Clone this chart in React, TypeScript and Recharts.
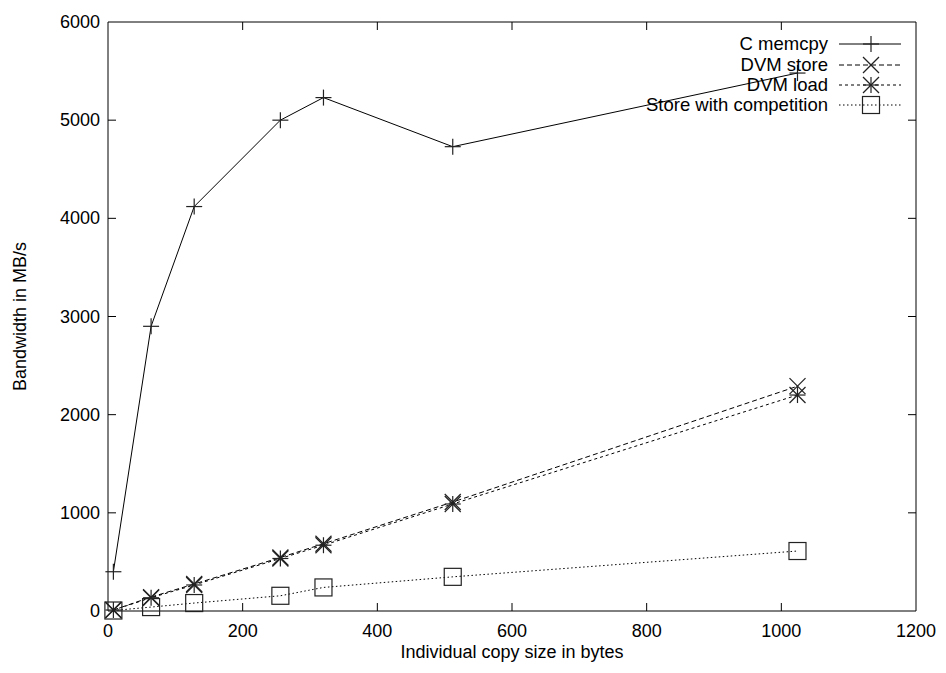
import React from "react";
import { LineChart, Line, XAxis, YAxis, Label } from "recharts";

// copy sizes in bytes
const SIZES = [8, 64, 128, 256, 320, 512, 1024];
// bandwidth in MB/s
const MEMCPY = [400, 2900, 4120, 5000, 5230, 4730, 5480];
const DVM_STORE = [10, 142, 275, 545, 685, 1110, 2290];
const DVM_LOAD = [10, 135, 265, 535, 670, 1090, 2200];
const COMPETITION = [5, 40, 81, 155, 240, 348, 611];

const X_TICKS = [0, 200, 400, 600, 800, 1000, 1200];
const Y_TICKS = [0, 1000, 2000, 3000, 4000, 5000, 6000];

const FONT = "'Liberation Sans', Arial, Helvetica, sans-serif";
const INK = "#000";
const MARK = "#222";

// plot frame inside the svg (gnuplot style box with inward ticks)
const W = 930;
const H = 657;
const M = { top: 14, right: 22, bottom: 54, left: 100 };
const TICK = 8;

type Marker = "plus" | "cross" | "star" | "square";

const SERIES: { key: string; name: string; dash?: string; marker: Marker }[] = [
  { key: "memcpy", name: "C memcpy", marker: "plus" },
  { key: "store", name: "DVM store", dash: "5 3", marker: "cross" },
  { key: "load", name: "DVM load", dash: "3 3", marker: "star" },
  { key: "comp", name: "Store with competition", dash: "1.5 2.5", marker: "square" },
];

const rows = SIZES.map((x, i) => ({
  x,
  memcpy: MEMCPY[i],
  store: DVM_STORE[i],
  load: DVM_LOAD[i],
  comp: COMPETITION[i],
}));

function MarkerShape({ cx, cy, kind }: { cx: number; cy: number; kind: Marker }) {
  const h = 8;
  const p = { stroke: MARK, strokeWidth: 1.2, fill: "none" };
  if (kind === "plus")
    return (
      <g>
        <line x1={cx - h} y1={cy} x2={cx + h} y2={cy} {...p} />
        <line x1={cx} y1={cy - h} x2={cx} y2={cy + h} {...p} />
      </g>
    );
  if (kind === "cross")
    return (
      <g>
        <line x1={cx - h} y1={cy - h} x2={cx + h} y2={cy + h} {...p} />
        <line x1={cx - h} y1={cy + h} x2={cx + h} y2={cy - h} {...p} />
      </g>
    );
  if (kind === "star")
    return (
      <g>
        <line x1={cx - h} y1={cy} x2={cx + h} y2={cy} {...p} />
        <line x1={cx} y1={cy - h} x2={cx} y2={cy + h} {...p} />
        <line x1={cx - h} y1={cy - h} x2={cx + h} y2={cy + h} {...p} />
        <line x1={cx - h} y1={cy + h} x2={cx + h} y2={cy - h} {...p} />
      </g>
    );
  return <rect x={cx - 8.5} y={cy - 8.5} width={17} height={17} {...p} />;
}

// bottom tick: label below + inward marks on bottom and top edges
function XTick(props: any) {
  const x = props.payload.coordinate;
  const bottom = H - M.bottom;
  const top = M.top;
  const edge = props.payload.value === 0 || props.payload.value === 1200;
  return (
    <g>
      {!edge && <line x1={x} y1={bottom} x2={x} y2={bottom - TICK} stroke={INK} />}
      {!edge && <line x1={x} y1={top} x2={x} y2={top + TICK} stroke={INK} />}
      <text x={x} y={bottom + 20} textAnchor="middle" dominantBaseline="central" fontSize={18} fill="#000">
        {props.payload.value}
      </text>
    </g>
  );
}

// left tick: label left + inward marks on left and right edges
function YTick(props: any) {
  const y = props.payload.coordinate;
  const left = M.left;
  const right = W - M.right;
  const edge = props.payload.value === 0 || props.payload.value === 6000;
  return (
    <g>
      {!edge && <line x1={left} y1={y} x2={left + TICK} y2={y} stroke={INK} />}
      {!edge && <line x1={right} y1={y} x2={right - TICK} y2={y} stroke={INK} />}
      <text x={left - 8} y={y} textAnchor="end" dominantBaseline="central" fontSize={18} fill="#000">
        {props.payload.value}
      </text>
    </g>
  );
}

function LegendBox() {
  return (
    <div style={{ position: "absolute", left: 0, top: 26, width: 893, fontFamily: FONT, fontSize: 18.5 }}>
      {SERIES.map((s) => (
        <div key={s.key} style={{ display: "flex", justifyContent: "flex-end", alignItems: "center", height: 20.4 }}>
          <span style={{ color: "#000", lineHeight: "20px" }}>{s.name}</span>
          <svg width={62} height={20} style={{ marginLeft: 11, display: "block" }}>
            <line x1={0} y1={10} x2={62} y2={10} stroke={INK} strokeWidth={1} strokeDasharray={s.dash} />
            <MarkerShape cx={32} cy={10} kind={s.marker} />
          </svg>
        </div>
      ))}
    </div>
  );
}

export default function App() {
  return (
    <div style={{ position: "relative", width: W, height: H, background: "#fff" }}>
      <LineChart
        width={W}
        height={H}
        data={rows}
        margin={{ top: M.top - 1, right: M.right - 1, bottom: 0, left: 0 }}
        style={{ fontFamily: FONT }}
      >
        <XAxis
          xAxisId="b"
          dataKey="x"
          type="number"
          domain={[0, 1200]}
          ticks={X_TICKS}
          height={M.bottom}
          tickLine={false}
          stroke={INK}
          tick={<XTick />}
        >
          <Label
            content={({ viewBox }: any) => (
              <text
                x={viewBox.x + viewBox.width / 2}
                y={viewBox.y + 41}
                textAnchor="middle"
                dominantBaseline="central"
                fontSize={18}
                fill="#000"
              >
                Individual copy size in bytes
              </text>
            )}
          />
        </XAxis>
        <XAxis
          xAxisId="t"
          orientation="top"
          dataKey="x"
          type="number"
          domain={[0, 1200]}
          height={1}
          tickLine={false}
          tick={false}
          stroke={INK}
        />
        <YAxis
          yAxisId="l"
          type="number"
          domain={[0, 6000]}
          ticks={Y_TICKS}
          width={M.left}
          tickLine={false}
          stroke={INK}
          tick={<YTick />}
        >
          <Label
            content={({ viewBox }: any) => {
              const cx = viewBox.x + 12;
              const cy = viewBox.y + viewBox.height / 2;
              return (
                <text
                  x={cx}
                  y={cy}
                  transform={`rotate(-90, ${cx}, ${cy})`}
                  textAnchor="middle"
                  dominantBaseline="central"
                  fontSize={18}
                  fill="#000"
                >
                  Bandwidth in MB/s
                </text>
              );
            }}
          />
        </YAxis>
        <YAxis
          yAxisId="r"
          orientation="right"
          type="number"
          domain={[0, 6000]}
          width={1}
          tickLine={false}
          tick={false}
          stroke={INK}
        />
        {SERIES.map((s) => (
          <Line
            key={s.key}
            xAxisId="b"
            yAxisId="l"
            dataKey={s.key}
            name={s.name}
            type="linear"
            stroke={INK}
            strokeWidth={1}
            strokeDasharray={s.dash}
            isAnimationActive={false}
            dot={(props: any) => (
              <MarkerShape key={`${s.key}-${props.index}`} cx={props.cx} cy={props.cy} kind={s.marker} />
            )}
            activeDot={false}
          />
        ))}
      </LineChart>
      <LegendBox />
    </div>
  );
}
